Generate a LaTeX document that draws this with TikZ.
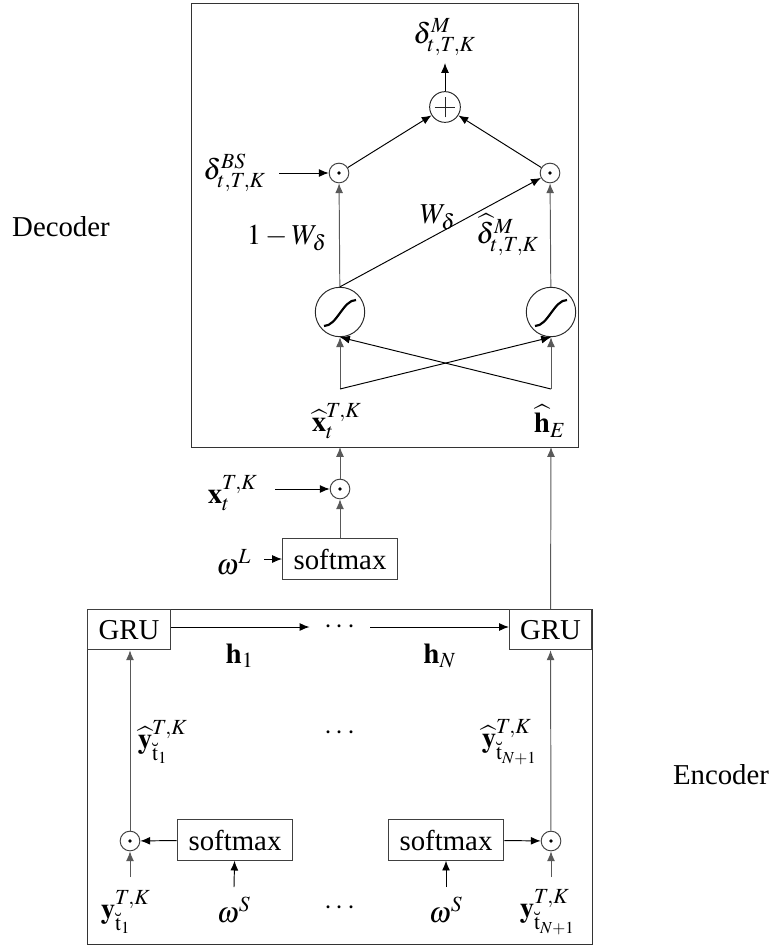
\documentclass[tikz,border=0pt,12pt]{standalone}
\usepackage{mathptmx}
\usepackage{fontspec}
\setmainfont{Liberation Serif}
\usetikzlibrary{arrows.meta}
\begin{document}
\begin{tikzpicture}[x=0.41667pt,y=-0.41667pt,
  arr/.style={-{Latex[length=4.1pt,width=3.3pt]}},
  gline/.style={draw=black!65},
  boxn/.style={draw=black!75,rectangle,inner sep=0pt,minimum height=16.8pt},
  odotn/.style={circle,draw=black!75,minimum size=8.2pt,inner sep=0pt,
    path picture={\fill (path picture bounding box.center) circle (0.75pt);}},
  plusn/.style={circle,draw=black!85,minimum size=12.8pt,inner sep=0pt,
    path picture={\draw (path picture bounding box.center) +(-4.3pt,0) -- +(4.3pt,0)
      (path picture bounding box.center) +(0,-4.3pt) -- +(0,4.3pt);}},
  sign/.style={circle,draw=black!85,minimum size=20.6pt,inner sep=0pt},
  lab/.style={inner sep=0pt},
  sigcurve/.pic={\draw[line width=0.9pt] (-16,14) .. controls (-3,14) and (3,-12) .. (16,-12);}
]
\useasboundingbox (0,0) rectangle (775,946);
% ---------- side labels
\node[lab] (declab) at (61,227) {Decoder};
\node[lab] (enclab) at (721,775) {Encoder};
% ---------- decoder
\draw[draw=black!80] (191,3) rectangle (578,447);
\coordinate (decA) at (340,447);
\coordinate (decB) at (551,447);
\node[lab] (dM) at (445,37) {$\delta^{M}_{t,T,K}$};
\coordinate (dMend) at (445,63);
\node[plusn] (plus) at (445,107) {};
\node[odotn] (lodot) at (339,173) {};
\node[odotn] (rodot) at (550,173) {};
\node[lab] (dBS) at (235,173) {$\delta^{BS}_{t,T,K}$};
\node[lab] (oneW) at (287,238) {$1-W_{\delta}$};
\node[lab] (Wd) at (438,217) {$W_{\delta}$};
\node[lab] (dhat) at (508,235) {$\widehat{\delta}^{M}_{t,T,K}$};
\node[sign] (lsig) at (340,312) {};
\node[sign] (rsig) at (551,312) {};
\pic at (lsig) {sigcurve};
\pic at (rsig) {sigcurve};
\coordinate (xin) at (340,389);
\coordinate (hin) at (551,389);
\node[lab] (xhat) at (337,421) {$\widehat{\mathbf{x}}_{t}^{T,K}$};
\node[lab] (hE) at (550,421) {$\widehat{\mathbf{h}}_{E}$};

\draw[arr] (plus) -- (dMend);
\draw[arr] (lodot) -- (plus);
\draw[arr] (rodot) -- (plus);
\draw[arr,shorten <=5pt] (dBS.east) -- (lodot);
\draw[arr,gline] (lsig) -- (lodot);
\draw[arr,gline] (rsig) -- (rodot);
\draw[arr] (lsig.north) -- (rodot);
\draw[arr,gline] (xin) -- (lsig);
\draw[arr,gline] (hin) -- (rsig);
\draw[arr] (xin) -- (rsig.south);
\draw[arr] (hin) -- (lsig.south);

% ---------- between
\node[odotn] (odotX) at (340,489) {};
\node[lab] (xlab) at (233,493) {$\mathbf{x}_{t}^{T,K}$};
\node[boxn,minimum width=47.9pt] (smL) at (340,559) {softmax};
\node[lab] (omL) at (234,562) {$\omega^{L}$};
\draw[arr,gline] (odotX) -- (decA);
\draw[arr,shorten <=7pt] (xlab.east |- odotX) -- (odotX);
\draw[arr,gline] (smL) -- (odotX);
\draw[arr,shorten <=5pt] (omL.east |- smL) -- (smL);

% ---------- encoder
\draw[draw=black!80] (87,609) rectangle (592,944);
\node[boxn,minimum width=34.6pt,anchor=north west] (gru1) at (87,609) {GRU};
\node[boxn,minimum width=34.2pt,anchor=north east] (gru2) at (592,609) {GRU};
\node[lab,minimum width=25pt] (hdots) at (340,627) {$\cdots$};
\node[lab] (h1) at (240,656) {$\mathbf{h}_{1}$};
\node[lab] (hN) at (440,656) {$\mathbf{h}_{N}$};
\draw[arr] (gru1.east |- hdots) -- (hdots);
\draw[arr] (hdots) -- (gru2.west |- hdots);
\draw[arr,gline] (gru2) -- (decB);

\node[lab] (yh1) at (163,742) {$\widehat{\mathbf{y}}^{T,K}_{\breve{\mathrm{t}}_{1}}$};
\node[lab] (mdots) at (340,733) {$\cdots$};
\node[lab] (yh2) at (510,742) {$\widehat{\mathbf{y}}^{T,K}_{\breve{\mathrm{t}}_{N+1}}$};

\node[odotn] (lodotE) at (130,841) {};
\node[odotn] (rodotE) at (551,841) {};
\node[boxn,minimum width=48.3pt] (sm1) at (235,840) {softmax};
\node[boxn,minimum width=48.3pt] (sm2) at (446,840) {softmax};
\draw[arr,gline] (lodotE) -- (gru1.south -| lodotE);
\draw[arr,gline] (rodotE) -- (gru2);
\draw[arr] (sm1) -- (lodotE);
\draw[arr] (sm2) -- (rodotE);

\node[lab] (omS1) at (234,910) {$\omega^{S}$};
\node[lab] (omS2) at (446,910) {$\omega^{S}$};
\node[lab] (bdots) at (340,908) {$\cdots$};
\node[lab] (y1) at (126,912) {$\mathbf{y}^{T,K}_{\breve{\mathrm{t}}_{1}}$};
\node[lab] (y2) at (548,912) {$\mathbf{y}^{T,K}_{\breve{\mathrm{t}}_{N+1}}$};
\coordinate (om1s) at (234,887);
\coordinate (om2s) at (446,887);
\coordinate (y1s) at (130,877);
\coordinate (y2s) at (551,877);
\draw[arr] (om1s) -- (sm1);
\draw[arr] (om2s) -- (sm2);
\draw[arr,gline] (y1s) -- (lodotE);
\draw[arr,gline] (y2s) -- (rodotE);
\end{tikzpicture}
\end{document}
